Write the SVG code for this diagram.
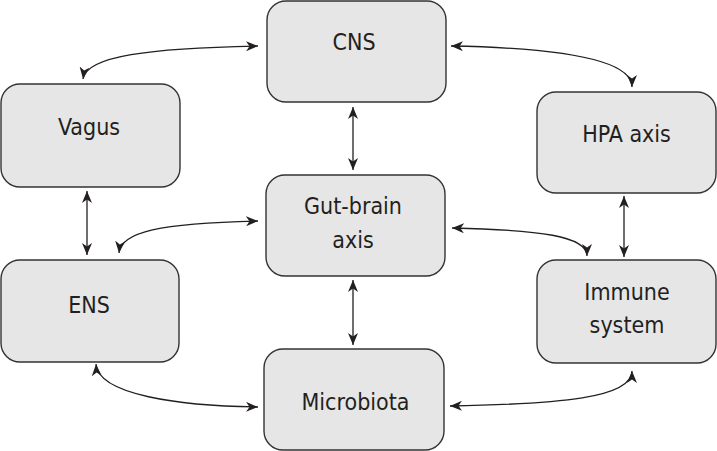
<svg xmlns="http://www.w3.org/2000/svg" width="717" height="451" viewBox="0 0 717 451">
<defs>
<style>
.box{fill:#e6e6e6;stroke:#333;stroke-width:1.4}
.lbl{font-family:"DejaVu Sans Condensed","DejaVu Sans",Verdana,sans-serif;font-stretch:condensed;font-size:23px;fill:#231f20;text-anchor:middle}
.c{fill:none;stroke:#231f20;stroke-width:1.3}
</style>
<marker id="ah" viewBox="0 0 12 10" markerWidth="12" markerHeight="10" refX="12" refY="5" orient="auto-start-reverse" markerUnits="userSpaceOnUse">
<path d="M0,0 L12,5 L0,10 L3.5,5 z" fill="#231f20"/>
</marker>
</defs>
<rect width="717" height="451" fill="#fff"/>
<g id="cns"><rect class="box" x="267" y="1" width="179" height="101" rx="19"/><text class="lbl" x="354" y="50">CNS</text></g>
<g id="vagus"><rect class="box" x="1" y="84" width="179" height="103" rx="19"/><text class="lbl" x="89" y="135">Vagus</text></g>
<g id="hpa"><rect class="box" x="537" y="92" width="179" height="101" rx="19"/><text class="lbl" x="626.5" y="142">HPA axis</text></g>
<g id="gutbrain"><rect class="box" x="266" y="175" width="179" height="101" rx="19"/><text class="lbl" x="353" y="214">Gut-brain</text><text class="lbl" x="353" y="248">axis</text></g>
<g id="ens"><rect class="box" x="1" y="260" width="178" height="102" rx="19"/><text class="lbl" x="89" y="313">ENS</text></g>
<g id="immune"><rect class="box" x="537" y="260" width="179" height="103" rx="19"/><text class="lbl" x="627" y="300">Immune</text><text class="lbl" x="627" y="333">system</text></g>
<g id="microbiota"><rect class="box" x="264" y="349" width="180" height="101" rx="19"/><text class="lbl" x="355.5" y="410">Microbiota</text></g>
<g id="connectors">
<path class="c" marker-start="url(#ah)" marker-end="url(#ah)" d="M83,79 C86,56 150,48 258,46"/>
<path class="c" marker-start="url(#ah)" marker-end="url(#ah)" d="M451,46 C560,48 632,60 632,87"/>
<path class="c" marker-start="url(#ah)" marker-end="url(#ah)" d="M353,107 L353,170"/>
<path class="c" marker-start="url(#ah)" marker-end="url(#ah)" d="M87,191 L87,255"/>
<path class="c" marker-start="url(#ah)" marker-end="url(#ah)" d="M119,253 C121,232 160,223 258,221"/>
<path class="c" marker-start="url(#ah)" marker-end="url(#ah)" d="M452,228 C540,230 587,236 587,256"/>
<path class="c" marker-start="url(#ah)" marker-end="url(#ah)" d="M624,196 L624,257"/>
<path class="c" marker-start="url(#ah)" marker-end="url(#ah)" d="M353,280 L353,345"/>
<path class="c" marker-start="url(#ah)" marker-end="url(#ah)" d="M96,364 C98,395 180,406 258,407"/>
<path class="c" marker-start="url(#ah)" marker-end="url(#ah)" d="M450,406 C560,404 632,398 632,371"/>
</g>
</svg>
